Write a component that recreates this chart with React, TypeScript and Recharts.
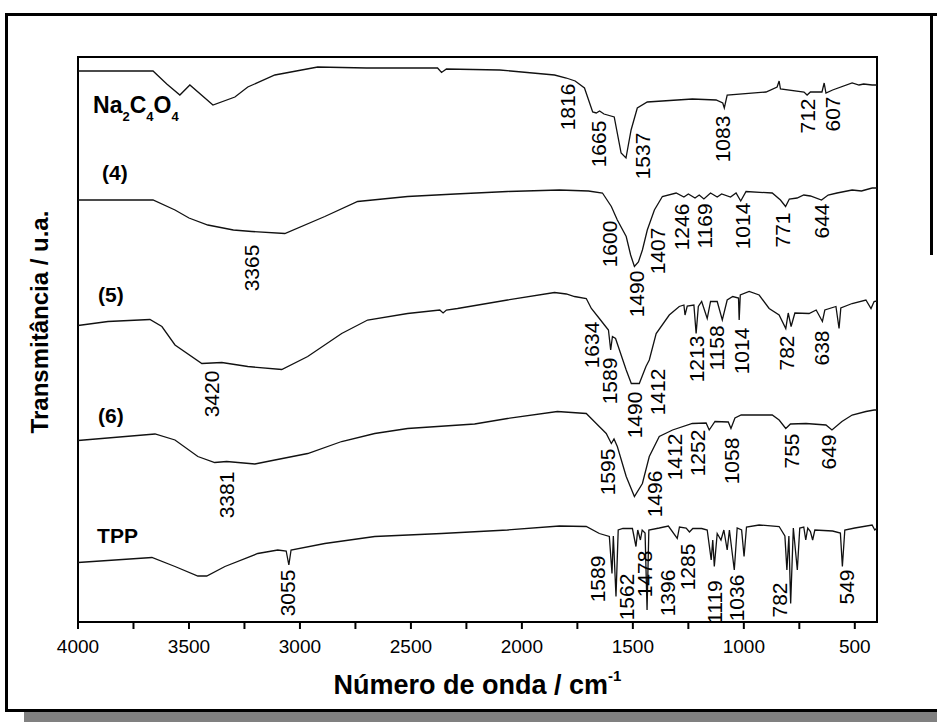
import React from "react";
import { ComposedChart, Line, Scatter, XAxis, YAxis, ReferenceArea } from "recharts";

// wavenumber (cm-1), transmittance with stacking offset (a.u.)
const na2c4o4 = [
  [4000, 110.2], [3662, 110.2], [3600, 107.6], [3541, 105.4], [3496, 107.4], [3392, 103.4],
  [3293, 105.0], [3235, 107.0], [3113, 109.4], [2920, 111.0], [2700, 110.8], [2380, 110.8],
  [2362, 109.9], [2340, 110.6], [2100, 110.4], [1853, 109.4], [1800, 108.8], [1760, 108.2],
  [1718, 106.8], [1681, 102.0], [1665, 101.8], [1650, 102.2], [1630, 101.6], [1584, 101.0],
  [1553, 93.8], [1531, 92.8], [1508, 98.4], [1480, 102.8], [1435, 104.0], [1232, 104.6],
  [1125, 104.4], [1095, 103.8], [1088, 102.8], [1075, 105.4], [900, 106.0], [850, 107.0],
  [841, 108.2], [835, 106.6], [729, 106.0], [715, 105.4], [700, 106.0], [648, 106.0],
  [638, 107.8], [630, 105.8], [600, 106.4], [512, 107.8], [481, 107.4], [460, 107.6],
  [422, 107.4], [400, 107.4],
];

const sample4 = [
  [4000, 84.4], [3662, 84.4], [3563, 82.4], [3500, 80.8], [3415, 79.4], [3300, 78.4],
  [3217, 78.1], [3068, 77.7], [2888, 81.1], [2740, 84.1], [2515, 85.1], [2300, 85.6],
  [2065, 86.1], [1831, 86.4], [1700, 86.2], [1637, 85.8], [1597, 83.1], [1570, 80.4],
  [1530, 77.1], [1510, 73.4], [1493, 71.1], [1475, 72.0], [1457, 74.4], [1435, 78.4],
  [1403, 82.4], [1367, 85.1], [1305, 85.8], [1270, 85.0], [1250, 85.6], [1220, 84.8],
  [1201, 85.4], [1180, 84.6], [1150, 85.8], [1120, 85.0], [1100, 85.6], [1060, 85.0],
  [1035, 85.8], [1014, 84.2], [990, 86.1], [872, 85.8], [835, 84.4], [812, 83.1],
  [795, 84.6], [760, 84.8], [730, 85.4], [700, 85.2], [650, 84.4], [620, 85.4],
  [580, 85.8], [512, 86.4], [470, 86.2], [422, 86.8], [400, 86.8],
];

const sample5 = [
  [4000, 59.3], [3865, 60.1], [3676, 60.5], [3622, 59.1], [3563, 55.4], [3442, 51.7],
  [3352, 51.9], [3235, 51.1], [3082, 50.5], [2965, 53.1], [2812, 57.7], [2695, 60.4],
  [2515, 61.7], [2370, 62.4], [2355, 61.8], [2340, 62.4], [2290, 62.7], [2065, 64.4],
  [1853, 65.9], [1800, 65.6], [1763, 65.1], [1710, 64.7], [1687, 62.7], [1651, 60.7],
  [1628, 59.4], [1610, 58.4], [1600, 54.4], [1592, 57.1], [1578, 56.7], [1530, 50.4],
  [1507, 47.7], [1471, 47.7], [1441, 51.1], [1426, 52.4], [1395, 57.7], [1336, 61.4],
  [1291, 63.1], [1270, 63.4], [1265, 61.4], [1255, 63.2], [1225, 63.4], [1215, 57.7],
  [1205, 63.1], [1190, 64.1], [1165, 60.7], [1150, 64.1], [1120, 64.1], [1097, 60.4],
  [1075, 64.4], [1050, 65.1], [1024, 64.8], [1021, 60.4], [1016, 65.4], [976, 66.1],
  [931, 65.4], [886, 62.7], [841, 61.4], [811, 58.7], [800, 61.8], [787, 59.1],
  [770, 61.8], [706, 61.7], [674, 62.4], [646, 60.1], [635, 62.4], [585, 63.1],
  [571, 58.7], [563, 62.8], [512, 63.7], [450, 64.4], [427, 62.7], [413, 64.1], [400, 64.2],
];

const sample6 = [
  [4000, 36.3], [3653, 37.6], [3563, 36.4], [3460, 33.1], [3384, 31.9], [3330, 32.1],
  [3203, 31.6], [3113, 32.4], [2965, 33.7], [2812, 36.1], [2663, 37.7], [2515, 38.7],
  [2213, 39.6], [2065, 40.7], [1840, 42.1], [1710, 41.7], [1665, 39.7], [1620, 37.7],
  [1597, 35.7], [1585, 36.6], [1570, 35.1], [1530, 29.1], [1493, 25.1], [1457, 27.7],
  [1426, 33.1], [1381, 37.1], [1321, 38.4], [1232, 39.7], [1170, 39.8], [1156, 38.4],
  [1130, 40.1], [1070, 40.0], [1058, 38.7], [1040, 40.8], [1012, 41.4], [872, 41.4],
  [841, 40.4], [811, 38.7], [790, 39.6], [720, 39.7], [630, 39.4], [603, 38.4],
  [558, 40.1], [512, 41.4], [450, 42.1], [413, 42.4], [400, 42.4],
];

const tpp = [
  [4000, 11.9], [3667, 12.9], [3563, 11.1], [3460, 9.2], [3420, 9.2], [3338, 11.1],
  [3190, 13.7], [3100, 14.4], [3062, 14.2], [3050, 11.4], [3040, 14.4], [2888, 15.7],
  [2663, 17.1], [2362, 17.7], [2065, 18.4], [1831, 19.2], [1710, 19.1], [1651, 17.7],
  [1606, 17.1], [1594, 9.7], [1588, 17.2], [1576, 5.1], [1566, 18.4], [1545, 18.7],
  [1502, 18.7], [1486, 15.1], [1478, 18.4], [1466, 16.4], [1458, 18.4], [1445, 17.8],
  [1436, 2.4], [1428, 18.4], [1381, 18.8], [1340, 19.2], [1300, 16.7], [1290, 19.0],
  [1260, 18.8], [1245, 18.0], [1230, 18.7], [1190, 18.7], [1165, 18.4], [1147, 12.4],
  [1140, 16.4], [1133, 11.1], [1120, 17.7], [1103, 16.4], [1090, 18.4], [1075, 14.4],
  [1065, 18.4], [1043, 10.4], [1030, 18.8], [1010, 18.4], [999, 13.1], [988, 19.0],
  [931, 19.4], [841, 19.1], [815, 17.2], [806, 10.4], [797, 17.2], [789, 3.7],
  [777, 18.8], [759, 10.4], [748, 18.8], [730, 19.0], [721, 16.4], [712, 18.8],
  [700, 18.1], [690, 16.4], [680, 18.4], [600, 18.2], [565, 17.8], [556, 11.1],
  [545, 18.4], [500, 18.8], [422, 19.4], [410, 18.4], [400, 18.8],
];

// peak annotations: text, wavenumber anchor, height anchor
const peaksNa = [["1816", 1795, 103.0], ["1665", 1655, 95.6], ["1537", 1457, 93.2], ["1083", 1097, 96.6], ["712", 715, 101.2], ["607", 602, 101.6]];
const peaks4 = [["3365", 3217, 70.8], ["1600", 1606, 75.6], ["1490", 1484, 65.6], ["1407", 1390, 74.2], ["1246", 1282, 79.0], ["1169", 1178, 79.2], ["1014", 1007, 79.2], ["771", 827, 78.4], ["644", 652, 80.2]];
const peaks5 = [["3420", 3397, 45.6], ["1634", 1687, 55.4], ["1589", 1606, 48.2], ["1490", 1493, 41.4], ["1412", 1390, 46.0], ["1213", 1214, 52.6], ["1158", 1124, 54.8], ["1014", 1012, 54.2], ["782", 809, 53.8], ["638", 652, 54.8]];
const peaks6 = [["3381", 3329, 25.4], ["1595", 1615, 30.0], ["1496", 1403, 25.6], ["1412", 1313, 33.0], ["1252", 1210, 33.8], ["1058", 1057, 32.2], ["755", 787, 34.2], ["649", 620, 34.0]];
const peaksTpp = [["3055", 3055, 5.8], ["1589", 1660, 8.6], ["1562", 1529, 5.0], ["1478", 1448, 9.6], ["1396", 1345, 5.8], ["1285", 1255, 11.0], ["1119", 1133, 4.0], ["1036", 1034, 4.8], ["782", 841, 4.4], ["549", 539, 7.0]];

const seriesNames = [["Na2C4O4", 3932, 101.8], ["(4)", 3892, 88.4], ["(5)", 3910, 64.0], ["(6)", 3910, 39.8], ["TPP", 3914, 15.8]];

const TICKS = [4000, 3750, 3500, 3250, 3000, 2750, 2500, 2250, 2000, 1750, 1500, 1250, 1000, 750, 500];
const TICK_LABELS = [4000, 3500, 3000, 2500, 2000, 1500, 1000, 500];

const FONT = "'Liberation Sans', Arial, sans-serif";

const toPts = (rows: number[][]) => rows.map(([wn, v]) => ({ wn, v }));
const peakPts = [...peaksNa, ...peaks4, ...peaks5, ...peaks6, ...peaksTpp].map(([text, wn, v]) => ({ text, wn, v }));
const namePts = seriesNames.map(([text, wn, v]) => ({ text, wn, v }));

function PeakLabel(props: any) {
  const { cx, cy, payload } = props;
  return (
    <text x={cx} y={cy} transform={`rotate(-90 ${cx} ${cy})`} textAnchor="middle" dominantBaseline="central" fontSize={21} fontFamily={FONT} fill="#000">
      {payload.text}
    </text>
  );
}

function SeriesName(props: any) {
  const { cx, cy, payload } = props;
  const text: string = payload.text;
  if (text.startsWith("Na")) {
    // chemical formula, digits as subscripts
    const parts = text.match(/[A-Za-z]+|\d+/g) || [];
    return (
      <text x={cx} y={cy} fontSize={23} fontWeight="bold" fontFamily={FONT} fill="#000">
        {parts.map((p, i) =>
          /\d/.test(p) ? (
            <tspan key={i} fontSize={13} dy={8}>{p}</tspan>
          ) : (
            <tspan key={i} dy={i === 0 ? 0 : -8}>{p}</tspan>
          ),
        )}
      </text>
    );
  }
  return (
    <text x={cx} y={cy} fontSize={21} fontWeight="bold" fontFamily={FONT} fill="#000">
      {text}
    </text>
  );
}

function WnTick({ x, y, payload }: any) {
  const show = TICK_LABELS.includes(payload.value);
  return (
    <text x={x} y={y + 22} textAnchor="middle" fontSize={19} fontFamily={FONT} fill="#000">
      {show ? payload.value : ""}
    </text>
  );
}

function AxisTitle({ viewBox }: any) {
  const cx = viewBox.x + viewBox.width / 2;
  return (
    <text x={cx} y={viewBox.y + 72} textAnchor="middle" fontSize={27} fontWeight="bold" fontFamily={FONT} fill="#000">
      Número de onda / cm
      <tspan fontSize={15} dy={-13}>-1</tspan>
    </text>
  );
}

const traces = [na2c4o4, sample4, sample5, sample6, tpp];

export default function App() {
  return (
    <div style={{ position: "absolute", left: 0, top: 0, width: 937, height: 722, background: "#fff", overflow: "hidden" }}>
      {/* outer frame + shadow */}
      <div style={{ position: "absolute", left: 24, top: 712, width: 913, height: 10, background: "#808080" }} />
      <div style={{ position: "absolute", left: 5, top: 13, width: 932, height: 699, borderTop: "3px solid #000", borderLeft: "3px solid #000", borderBottom: "3px solid #000", boxSizing: "border-box" }} />
      <div style={{ position: "absolute", left: 930, top: 13, width: 3, height: 242, background: "#000" }} />
      <div
        style={{
          position: "absolute",
          left: 40,
          top: 322,
          transform: "translate(-50%, -50%) rotate(-90deg)",
          whiteSpace: "nowrap",
          fontFamily: FONT,
          fontWeight: "bold",
          fontSize: 24,
        }}
      >
        Transmitância / u.a.
      </div>
      <div style={{ position: "absolute", left: 0, top: 0 }}>
        <ComposedChart width={937} height={722} margin={{ top: 57, right: 60, bottom: 60, left: 78 }}>
          <XAxis
            dataKey="wn"
            type="number"
            domain={[400, 4000]}
            reversed
            allowDataOverflow
            ticks={TICKS}
            interval={0}
            height={40}
            tick={<WnTick />}
            tickSize={7}
            tickLine={{ stroke: "#000", strokeWidth: 2 }}
            axisLine={{ stroke: "#000", strokeWidth: 2 }}
            label={<AxisTitle />}
          />
          <YAxis dataKey="v" type="number" domain={[0, 113]} hide allowDataOverflow />
          {traces.map((rows, i) => (
            <Line
              key={i}
              data={toPts(rows)}
              dataKey="v"
              type="linear"
              stroke="#111"
              strokeWidth={1.3}
              dot={false}
              activeDot={false}
              isAnimationActive={false}
            />
          ))}
          <Scatter data={peakPts} dataKey="v" shape={<PeakLabel />} isAnimationActive={false} />
          <Scatter data={namePts} dataKey="v" shape={<SeriesName />} isAnimationActive={false} />
          <ReferenceArea x1={400} x2={4000} y1={0} y2={113} fill="none" stroke="#000" strokeWidth={2} />
        </ComposedChart>
      </div>
    </div>
  );
}
